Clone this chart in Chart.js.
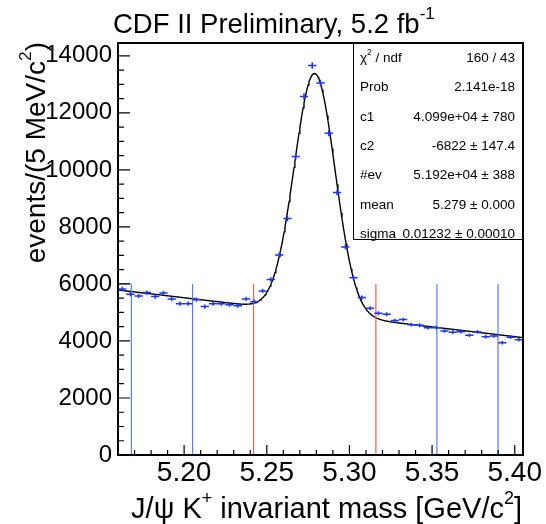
<!DOCTYPE html>
<html><head><meta charset="utf-8">
<script src="https://cdn.jsdelivr.net/npm/chart.js@4/dist/chart.umd.min.js"></script>
<style>html,body{margin:0;padding:0;background:#fff;}canvas{display:block;}</style>
</head><body>
<canvas id="c" width="546" height="524"></canvas>
<script>
// ---- data ----
const binCenters = [
  5.1625,5.1675,5.1725,5.1775,5.1825,5.1875,5.1925,5.1975,5.2025,5.2075,
  5.2125,5.2175,5.2225,5.2275,5.2325,5.2375,5.2425,5.2475,5.2525,5.2575,
  5.2625,5.2675,5.2725,5.2775,5.2825,5.2875,5.2925,5.2975,5.3025,5.3075,
  5.3125,5.3175,5.3225,5.3275,5.3325,5.3375,5.3425,5.3475,5.3525,5.3575,
  5.3625,5.3675,5.3725,5.3775,5.3825,5.3875,5.3925,5.3975,5.4025];
const counts = [
  5825,5639,5579,5695,5555,5685,5474,5309,5309,5449,
  5204,5309,5309,5274,5239,5474,5379,5755,6158,7018,
  8292,10467,12573,13661,13043,11288,9204,7299,6221,5520,
  5148,4972,4937,4713,4748,4572,4551,4467,4467,4351,
  4306,4327,4200,4316,4151,4176,3941,4130,4046];
const binWidth = 0.005;

// fit parameters (from the stats box): Gaussian + linear background
const fitC1 = 40990, fitC2 = -6822, fitNev = 51920, fitMean = 5.279, fitSigma = 0.01232;

// sideband / signal boundary lines
const blueLines = [5.1681, 5.2051, 5.3529, 5.3899];
const redLines = [5.2420, 5.3160];
const lineTop = 6000;

const xTickValues = [5.20, 5.25, 5.30, 5.35, 5.40];
const yTickValues = [0, 2000, 4000, 6000, 8000, 10000, 12000, 14000];
const xMin = 5.16, xMax = 5.405, yMin = 0, yMax = 14450;

const statsLabels = [[['χ'],['2',1],[' / ndf']], [['Prob']], [['c1']], [['c2']], [['#ev']], [['mean']], [['sigma']]];
const statsValues = ['160 / 43', '2.141e-18', '4.099e+04 ± 780', '-6822 ± 147.4', '5.192e+04 ± 388', '5.279 ± 0.000', '0.01232 ± 0.00010'];

const titleParts = [['CDF II Preliminary, 5.2 fb'], ['-1', 1]];
const xTitleParts = [['J/ψ K'], ['+', 1], [' invariant mass [GeV/c'], ['2', 1], [']']];
const yTitleParts = [['events/(5 MeV/c'], ['2', 1], [')']];

// ---- build datasets ----
const FONT = '"Liberation Sans", Arial, Helvetica, sans-serif';
const fitX = [];
for (let x = xMin; x <= xMax + 1e-9; x += 0.0005) fitX.push(x);
function fitFn(x) {
  const g = fitNev * binWidth / (Math.sqrt(2 * Math.PI) * fitSigma);
  return fitC1 + fitC2 * x + g * Math.exp(-0.5 * Math.pow((x - fitMean) / fitSigma, 2));
}
const datasets = [];
blueLines.forEach(v => datasets.push({data:[{x:v,y:0},{x:v,y:lineTop}], borderColor:'#5b78ff', borderWidth:1.2, showLine:true, pointRadius:0}));
redLines.forEach(v => datasets.push({data:[{x:v,y:0},{x:v,y:lineTop}], borderColor:'#f0604a', borderWidth:1.2, showLine:true, pointRadius:0}));
datasets.push({data:[{x:xMin,y:lineTop},{x:blueLines[0],y:lineTop}], borderColor:'#999999', borderWidth:1, showLine:true, pointRadius:0});
datasets.push({data: fitX.map(x => ({x, y: fitFn(x)})), borderColor:'#000', borderWidth:1.4, showLine:true, pointRadius:0, tension:0});
datasets.push({data: binCenters.map((x,i)=>({x, y:counts[i]})), showLine:false, pointRadius:0, borderColor:'#1a35ff'});

function drawRich(ctx, parts, x, y, size, align) {
  const widths = parts.map(p => { ctx.font = (p[1] ? size*0.62 : size) + 'px ' + FONT; return ctx.measureText(p[0]).width; });
  const total = widths.reduce((a,b)=>a+b, 0);
  let cx = align === 'right' ? x - total : x;
  ctx.textAlign = 'left'; ctx.textBaseline = 'alphabetic';
  parts.forEach((p,i) => {
    ctx.font = (p[1] ? size*0.62 : size) + 'px ' + FONT;
    ctx.fillText(p[0], cx, p[1] ? y - size*0.5 : y);
    cx += widths[i];
  });
}

const decor = {
  id: 'decor',
  afterDatasetsDraw(chart) {
    const ctx = chart.ctx, xs = chart.scales.x, ys = chart.scales.y, a = chart.chartArea;
    // data points with error bars
    ctx.save();
    ctx.strokeStyle = '#1a35ff'; ctx.lineWidth = 1.5;
    binCenters.forEach((xv, i) => {
      const px = xs.getPixelForValue(xv), py = ys.getPixelForValue(counts[i]);
      const x0 = xs.getPixelForValue(xv - binWidth/2), x1 = xs.getPixelForValue(xv + binWidth/2);
      const e = Math.sqrt(counts[i]);
      const y0 = ys.getPixelForValue(counts[i] - e), y1 = ys.getPixelForValue(counts[i] + e);
      ctx.beginPath();
      ctx.moveTo(x0, py); ctx.lineTo(x1, py);
      ctx.moveTo(px, y0); ctx.lineTo(px, y1);
      ctx.stroke();
    });
    ctx.restore();
    // stats box
    ctx.save();
    const bx0 = Math.round(xs.getPixelForValue(5.3021)), bx1 = a.right, by0 = a.top, by1 = a.top + 196;
    ctx.fillStyle = '#fff'; ctx.fillRect(bx0, by0, bx1 - bx0, by1 - by0);
    ctx.strokeStyle = '#000'; ctx.lineWidth = 1;
    ctx.strokeRect(bx0 + 0.5, by0 + 0.5, bx1 - bx0 - 1, by1 - by0);
    ctx.fillStyle = '#000';
    statsLabels.forEach((lab, i) => {
      const y = by0 + 19 + i * 29.3;
      drawRich(ctx, lab, bx0 + 7, y, 13.5, 'left');
      drawRich(ctx, [[statsValues[i]]], bx1 - 8, y, 13.5, 'right');
    });
    ctx.restore();
    // frame
    ctx.save();
    ctx.strokeStyle = '#000'; ctx.lineWidth = 2;
    ctx.strokeRect(a.left, a.top, a.right - a.left, a.bottom - a.top);
    ctx.lineWidth = 1.2;
    ctx.beginPath();
    for (let k = 0; k <= 25; k++) {
      const v = 5.16 + k * 0.01;
      if (v > xMax) break;
      const px = xs.getPixelForValue(v);
      const major = Math.abs(v*20 - Math.round(v*20)) < 1e-6;
      ctx.moveTo(px, a.bottom); ctx.lineTo(px, a.bottom - (major ? 10 : 5));
    }
    for (let v = 0; v <= 14000; v += 500) {
      const py = ys.getPixelForValue(v);
      const major = v % 2000 === 0;
      ctx.moveTo(a.left, py); ctx.lineTo(a.left + (major ? 12 : 6), py);
    }
    ctx.stroke();
    ctx.restore();
    // titles
    ctx.save();
    ctx.fillStyle = '#000';
    drawRich(ctx, titleParts, 113, 33, 27.5, 'left');
    drawRich(ctx, xTitleParts, 522, 518, 29, 'right');
    ctx.translate(45, 42); ctx.rotate(-Math.PI/2);
    drawRich(ctx, yTitleParts, 0, 0, 28, 'right');
    ctx.restore();
  }
};

new Chart(document.getElementById('c'), {
  type: 'scatter',
  data: { datasets },
  options: {
    responsive: false, animation: false, devicePixelRatio: 1,
    layout: { padding: { top: 43, right: 23, left: 0, bottom: 0 } },
    plugins: { legend: { display: false }, tooltip: { enabled: false } },
    scales: {
      x: {
        type: 'linear', min: xMin, max: xMax,
        grid: { display: false, drawTicks: false }, border: { display: false },
        afterBuildTicks: s => { s.ticks = xTickValues.map(v => ({ value: v })); },
        afterFit: s => { s.height = 69; },
        ticks: { color: '#000', padding: 1, maxRotation: 0, minRotation: 0, autoSkip: false,
                 font: { family: FONT, size: 28 }, callback: v => Number(v).toFixed(2) }
      },
      y: {
        type: 'linear', min: yMin, max: yMax,
        grid: { display: false, drawTicks: false }, border: { display: false },
        afterBuildTicks: s => { s.ticks = yTickValues.map(v => ({ value: v })); },
        afterFit: s => { s.width = 118; },
        ticks: { color: '#000', padding: 6, autoSkip: false,
                 font: { family: FONT, size: 24 }, callback: v => String(v) }
      }
    }
  },
  plugins: [decor]
});
</script>
</body></html>
